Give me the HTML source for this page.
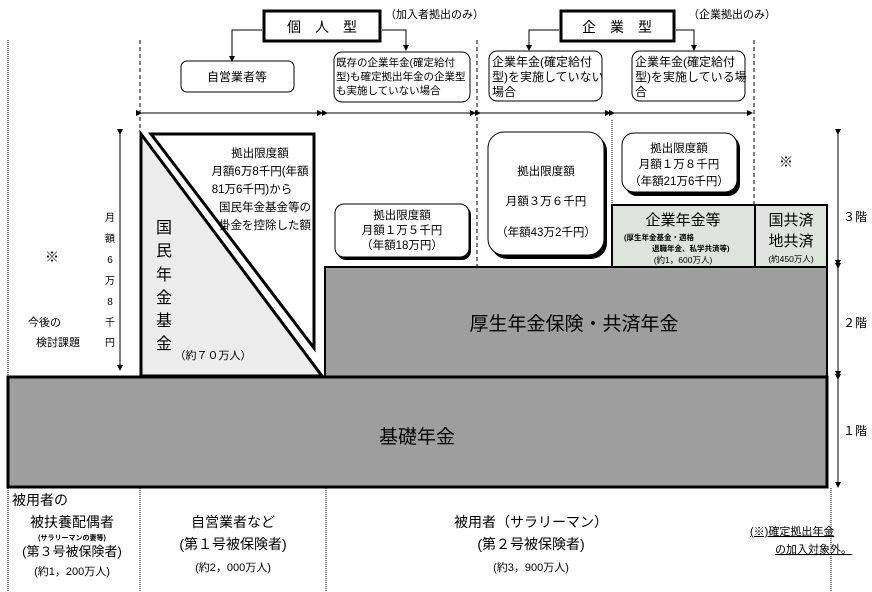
<!DOCTYPE html>
<html><head><meta charset="utf-8"><style>
html,body{margin:0;padding:0;background:#fff;}
svg{display:block;font-family:"Liberation Sans","Noto Sans CJK JP",sans-serif;}
</style></head><body>
<svg width="872" height="592" viewBox="0 0 872 592" xmlns="http://www.w3.org/2000/svg">
<defs>
<marker id="a" markerWidth="6" markerHeight="6" refX="5" refY="3" orient="auto" markerUnits="userSpaceOnUse"><path d="M0,0 L6,3 L0,6 z" fill="#000"/></marker>
</defs>
<g fill="#000" font-size="12">
<line x1="8" y1="40" x2="8" y2="592" stroke="#000" stroke-dasharray="1,1"/>
<line x1="140" y1="40" x2="140" y2="376" stroke="#000" stroke-dasharray="4,3"/>
<line x1="140" y1="488" x2="140" y2="592" stroke="#000" stroke-dasharray="1,1"/>
<line x1="326" y1="488" x2="326" y2="592" stroke="#000" stroke-dasharray="1,1"/>
<line x1="831" y1="488" x2="831" y2="592" stroke="#000" stroke-dasharray="1,1"/>
<line x1="477" y1="40" x2="477" y2="266" stroke="#000" stroke-dasharray="4,3"/>
<line x1="612" y1="120" x2="612" y2="204" stroke="#000" stroke-dasharray="1,1"/>
<line x1="754" y1="40" x2="754" y2="204" stroke="#000" stroke-dasharray="4,3"/>

<rect x="264" y="11" width="116" height="30" fill="#fff" stroke="#000" stroke-width="3"/>
<text x="322" y="32" text-anchor="middle" font-size="14">個　人　型</text>
<text x="385" y="18" font-size="11">（加入者拠出のみ）</text>
<rect x="561" y="11" width="113" height="30" fill="#fff" stroke="#000" stroke-width="3"/>
<text x="617" y="32" text-anchor="middle" font-size="14">企　業　型</text>
<text x="688" y="18" font-size="11">（企業拠出のみ）</text>
<g stroke="#000" fill="none">
<polyline points="262,30 232,30 232,61" marker-end="url(#a)"/>
<polyline points="382,30 406,30 406,50" marker-end="url(#a)"/>
<polyline points="559,30 529,30 529,50" marker-end="url(#a)"/>
<polyline points="676,30 694,30 694,50" marker-end="url(#a)"/>
</g>
<rect x="181" y="61" width="113" height="31" rx="6" fill="#fff" stroke="#000"/>
<text x="237" y="81" text-anchor="middle">自営業者等</text>
<rect x="334" y="52" width="136" height="50" rx="8" fill="#fff" stroke="#000"/>
<text x="336" y="66" font-size="10.5">既存の企業年金(確定給付</text>
<text x="336" y="80" font-size="10.5">型)も確定拠出年金の企業型</text>
<text x="336" y="94" font-size="10.5">も実施していない場合</text>
<rect x="489" y="51" width="113" height="50" rx="8" fill="#fff" stroke="#000"/>
<text x="492" y="66">企業年金(確定給付</text>
<text x="492" y="81">型)を実施していない</text>
<text x="492" y="96">場合</text>
<rect x="632" y="51" width="113" height="50" rx="8" fill="#fff" stroke="#000"/>
<text x="635" y="66">企業年金(確定給付</text>
<text x="635" y="81">型)を実施している場</text>
<text x="635" y="96">合</text>

<g stroke="#000">
<line x1="141" y1="113" x2="322" y2="113" marker-start="url(#a)" marker-end="url(#a)"/>
<line x1="327" y1="113" x2="475" y2="113" marker-start="url(#a)" marker-end="url(#a)"/>
<line x1="480" y1="113" x2="610" y2="113" marker-start="url(#a)" marker-end="url(#a)"/>
<line x1="614" y1="113" x2="752" y2="113" marker-start="url(#a)" marker-end="url(#a)"/>
</g>

<line x1="120" y1="134" x2="120" y2="370" stroke="#000" marker-start="url(#a)" marker-end="url(#a)"/>
<g font-size="10" text-anchor="middle">
<text x="110" y="221">月</text><text x="110" y="242">額</text><text x="110" y="263">6</text>
<text x="110" y="284">万</text><text x="110" y="305">8</text><text x="110" y="326">千</text><text x="110" y="346">円</text>
</g>
<text x="52" y="262" text-anchor="middle" font-size="14">※</text>
<text x="28" y="326" font-size="11">今後の</text>
<text x="36" y="346" font-size="11">検討課題</text>

<polygon points="141,134 141,376 322,376" fill="#ececec" stroke="#000" stroke-width="3"/>
<line x1="141" y1="376" x2="141" y2="134" stroke="#000" stroke-width="1"/>
<polygon points="151,134 314,134 314,348" fill="#fff" stroke="#000" stroke-width="3"/>
<g font-size="16" text-anchor="middle"><text x="164" y="233">国</text><text x="164" y="256">民</text><text x="164" y="280">年</text><text x="164" y="303">金</text><text x="164" y="326">基</text><text x="164" y="349">金</text></g>
<text x="213" y="359" text-anchor="middle" font-size="11">（約７０万人）</text>
<g font-size="11.5" text-anchor="middle">
<text x="260" y="157">拠出限度額</text>
<text x="260" y="175">月額6万8千円(年額</text>
<text x="252" y="193">81万6千円)から</text>
<text x="265" y="211">国民年金基金等の</text>
<text x="265" y="229">掛金を控除した額</text>
</g>

<rect x="337" y="206" width="134" height="54" rx="9" fill="#000"/>
<rect x="335" y="204" width="134" height="53" rx="9" fill="#fff" stroke="#000"/>
<g font-size="11.5" text-anchor="middle">
<text x="402" y="219">拠出限度額</text><text x="402" y="234">月額１万５千円</text><text x="402" y="249">（年額18万円）</text>
</g>
<rect x="491" y="135" width="116" height="124" rx="16" fill="#000"/>
<rect x="488" y="132" width="116" height="123" rx="16" fill="#fff" stroke="#000"/>
<g font-size="11.5" text-anchor="middle">
<text x="546" y="175">拠出限度額</text><text x="546" y="205">月額３万６千円</text><text x="546" y="236">（年額43万2千円）</text>
</g>
<rect x="625" y="136" width="115" height="60" rx="12" fill="#000"/>
<rect x="622" y="133" width="115" height="59" rx="12" fill="#fff" stroke="#000"/>
<g font-size="11.5" text-anchor="middle">
<text x="679" y="152">拠出限度額</text><text x="679" y="168">月額１万８千円</text><text x="679" y="185">（年額21万6千円）</text>
</g>
<text x="786" y="167" text-anchor="middle" font-size="14">※</text>

<rect x="612" y="205" width="143" height="62" fill="#dfe3dd" stroke="#000" stroke-width="2"/>
<rect x="755" y="205" width="72" height="62" fill="#dfe3dd" stroke="#000" stroke-width="2"/>
<text x="683" y="225" text-anchor="middle" font-size="15">企業年金等</text>
<text x="624" y="240" font-size="7.5" font-weight="bold">(厚生年金基金・適格</text>
<text x="652" y="251" font-size="7.5" font-weight="bold">退職年金、私学共済等)</text>
<text x="683" y="263" text-anchor="middle" font-size="8.5">(約1，600万人)</text>
<text x="791" y="225" text-anchor="middle" font-size="15">国共済</text>
<text x="791" y="246" text-anchor="middle" font-size="15">地共済</text>
<text x="791" y="262" text-anchor="middle" font-size="8.5">(約450万人)</text>

<rect x="325" y="267" width="502" height="110" fill="#9e9e9e" stroke="#000" stroke-width="2"/>
<text x="574" y="330" text-anchor="middle" font-size="19">厚生年金保険・共済年金</text>
<rect x="8" y="377" width="819" height="110" fill="#9e9e9e" stroke="#000" stroke-width="3"/>
<text x="417" y="443" text-anchor="middle" font-size="19">基礎年金</text>

<g stroke="#000">
<line x1="838" y1="134" x2="838" y2="265" marker-start="url(#a)" marker-end="url(#a)"/>
<line x1="838" y1="268" x2="838" y2="376" marker-start="url(#a)" marker-end="url(#a)"/>
<line x1="838" y1="379" x2="838" y2="487" marker-start="url(#a)" marker-end="url(#a)"/>
</g>
<text x="843" y="221" font-size="12">３階</text>
<text x="843" y="327" font-size="12">２階</text>
<text x="843" y="435" font-size="12">１階</text>

<text x="12" y="505" font-size="14">被用者の</text>
<text x="72" y="527" text-anchor="middle" font-size="14">被扶養配偶者</text>
<text x="72" y="540" text-anchor="middle" font-size="7" font-weight="bold">(サラリーマンの妻等)</text>
<text x="72" y="556" text-anchor="middle" font-size="13">(第３号被保険者)</text>
<text x="72" y="575" text-anchor="middle" font-size="11">(約1，200万人)</text>
<text x="233" y="527" text-anchor="middle" font-size="14">自営業者など</text>
<text x="233" y="549" text-anchor="middle" font-size="14">(第１号被保険者)</text>
<text x="233" y="571" text-anchor="middle" font-size="11">(約2，000万人)</text>
<text x="531" y="527" text-anchor="middle" font-size="14">被用者（サラリーマン）</text>
<text x="531" y="549" text-anchor="middle" font-size="14">(第２号被保険者)</text>
<text x="531" y="571" text-anchor="middle" font-size="11">(約3，900万人)</text>
<text x="750" y="535" font-size="11" text-decoration="underline">(※)確定拠出年金</text>
<text x="775" y="553" font-size="11" text-decoration="underline">の加入対象外。</text>
</g>
</svg>
</body></html>
